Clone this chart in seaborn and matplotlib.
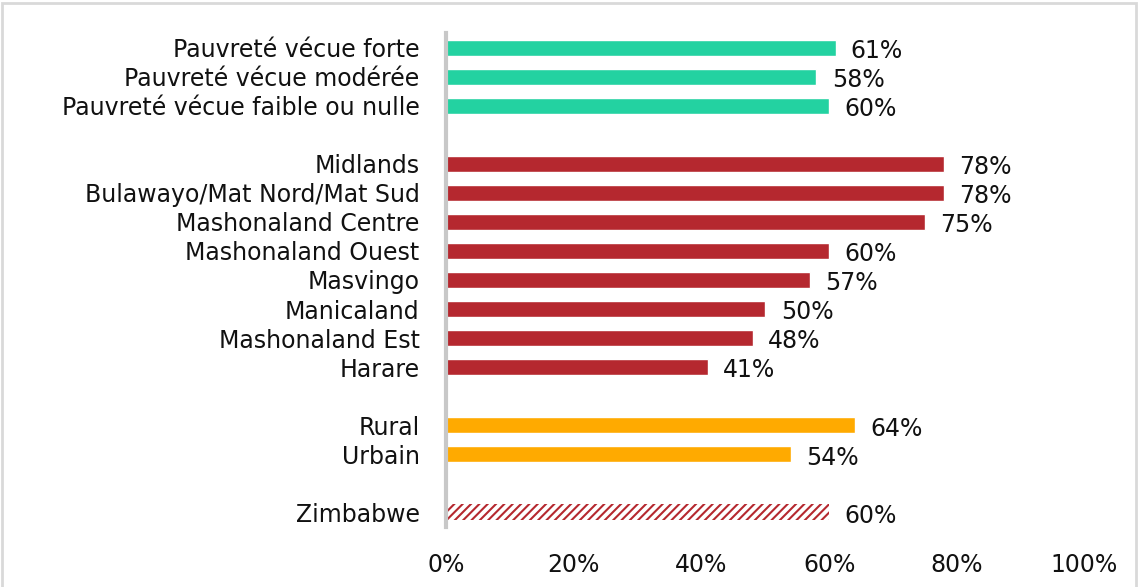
import pandas as pd
import numpy as np
import matplotlib
matplotlib.use("Agg")
import matplotlib.pyplot as plt
from matplotlib.patches import Rectangle
import seaborn as sns

# données
categories = ["Pauvreté vécue forte", "Pauvreté vécue modérée", "Pauvreté vécue faible ou nulle", " ",
              "Midlands", "Bulawayo/Mat Nord/Mat Sud", "Mashonaland Centre", "Mashonaland Ouest",
              "Masvingo", "Manicaland", "Mashonaland Est", "Harare", "  ",
              "Rural", "Urbain", "   ", "Zimbabwe"]
values = [61, 58, 60, np.nan,
          78, 78, 75, 60, 57, 50, 48, 41, np.nan,
          64, 54, np.nan, 60]
groups = ["pauvrete"] * 4 + ["region"] * 9 + ["milieu"] * 3 + ["national"]
colors = {"pauvrete": "#23D2A1", "region": "#B5282F", "milieu": "#FFAA00", "national": "#B5282F"}
xticks = [0, 20, 40, 60, 80, 100]

df = pd.DataFrame({"cat": categories, "val": values, "grp": groups})

sns.set_style("white")
plt.rcParams["font.family"] = ["DejaVu Sans"]
plt.rcParams["hatch.linewidth"] = 1.5
plt.rcParams["hatch.color"] = "#B5282F"
fs = 17

fig = plt.figure(figsize=(11.38, 5.87), dpi=100)
ax = fig.add_axes([0.392, 0.103, 0.953 - 0.392, 0.943 - 0.103])

sns.barplot(data=df.dropna(), x="val", y="cat", hue="grp", order=categories,
            palette=colors, saturation=1, dodge=False, width=0.58, legend=False, ax=ax)

# barre Zimbabwe hachurée (la dernière ligne)
last = len(categories) - 1
for p in ax.patches:
    if isinstance(p, Rectangle) and p.get_y() + p.get_height() / 2 > last - 0.5:
        p.set_facecolor("white")
        p.set_edgecolor("#B5282F")
        p.set_hatch("////")
        p.set_linewidth(0)

for i, v in enumerate(values):
    if not np.isnan(v):
        ax.text(v + 2.4, i + 0.12, f"{v:.0f}%", ha="left", va="center", fontsize=fs, color="#111111")

ax.set_xlim(0, 100)
ax.set_ylim(len(categories) - 0.5, -0.5)
ax.set_xticks(xticks)
ax.set_xticklabels([f"{t}%" for t in xticks], fontsize=fs, color="#111111")
ax.tick_params(axis="x", length=0, pad=19)
ax.tick_params(axis="y", length=0, pad=19, labelsize=fs, labelcolor="#111111")
ax.set_xlabel("")
ax.set_ylabel("")
for s in ["top", "right", "bottom"]:
    ax.spines[s].set_visible(False)
ax.spines["left"].set_color("#C8C8C8")
ax.spines["left"].set_linewidth(3)

fig.patches.append(Rectangle((0.002, -0.01), 0.996, 1.005, transform=fig.transFigure,
                             fill=False, edgecolor="#D9D9D9", linewidth=2))

fig.savefig("out.png", dpi=100)
